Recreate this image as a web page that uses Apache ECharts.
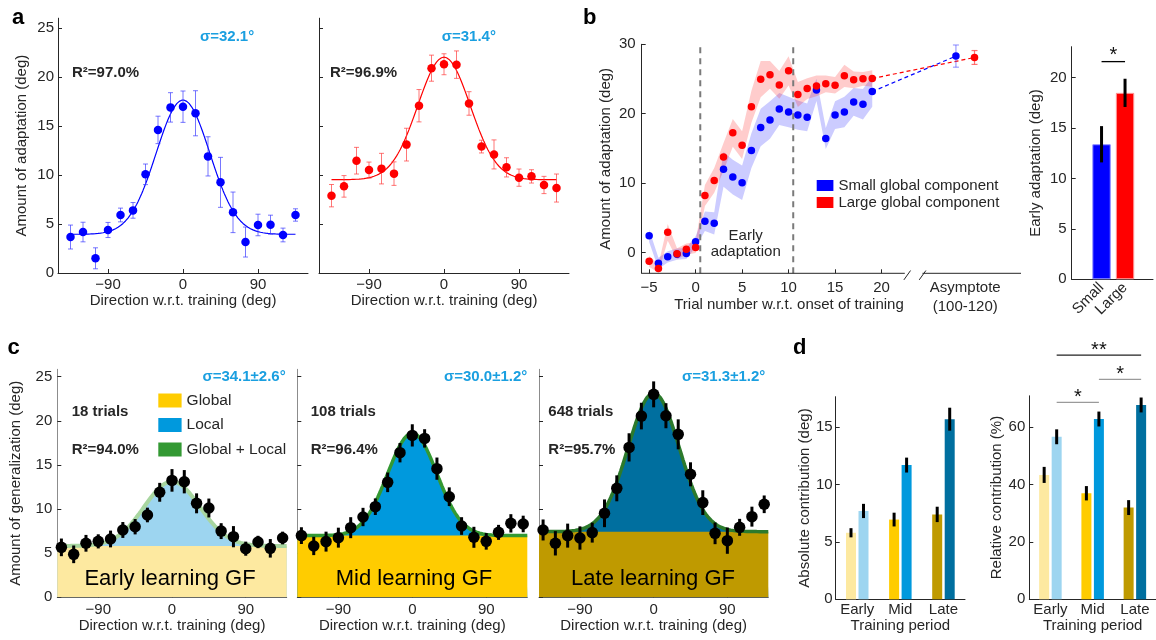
<!DOCTYPE html>
<html>
<head>
<meta charset="utf-8">
<title>Generalization of global and local adaptation</title>
<script src="https://cdn.jsdelivr.net/npm/echarts@6/dist/echarts.min.js"></script>
<style>
  html, body { margin: 0; padding: 0; background: #fff; }
  #chart { width: 1156px; height: 640px; }
</style>
</head>
<body>
<div id="chart"></div>
<script>
// ---------------- data ----------------
const dirAngles = [-135, -120, -105, -90, -75, -60, -45, -30, -15, 0, 15, 30, 45, 60, 75, 90, 105, 120, 135];
const dirTicks = [-90, 0, 90];

// (a) generalization of adaptation, small vs large global component
const smallGlobalAdapt    = [3.67, 4.18, 1.5, 4.39, 5.92, 6.39, 10.07, 14.6, 16.9, 16.97, 16.3, 11.9, 9.25, 6.19, 3.16, 4.9, 4.93, 3.88, 5.92];
const smallGlobalAdaptErr = [1.22, 1.0, 1.07, 0.77, 0.7, 0.8, 1.05, 1.4, 1.5, 1.6, 2.3, 2.0, 2.55, 2.07, 1.53, 1.1, 0.97, 0.7, 0.63];
const largeGlobalAdapt    = [7.89, 8.84, 11.46, 10.5, 10.65, 10.14, 13.1, 17.07, 20.9, 21.3, 21.26, 17.3, 12.9, 12.1, 10.78, 9.73, 9.86, 8.98, 8.67];
const largeGlobalAdaptErr = [1.14, 1.1, 1.36, 0.82, 1.56, 1.2, 1.67, 1.65, 1.33, 1.07, 1.4, 1.2, 0.65, 1.48, 0.98, 0.88, 0.68, 0.88, 1.43];
const smallGlobalFit = { base: 3.95, amp: 13.7, sigma: 32.1, r2: 97.0 };
const largeGlobalFit = { base: 9.52, amp: 12.5, sigma: 31.4, r2: 96.9 };

// (b) trial-by-trial adaptation
const trialNumbers = [-5, -4, -3, -2, -1, 0, 1, 2, 3, 4, 5, 6, 7, 8, 9, 10, 11, 12, 13, 14, 15, 16, 17, 18, 19];
const smallTrialAdapt = [2.42, -1.55, -0.63, -0.24, -0.14, 1.55, 4.49, 4.2, 11.98, 10.87, 10.05, 14.69, 18.02, 19.08, 20.68, 20.24, 19.8, 19.47, 23.43, 16.43, 19.8, 20.24, 21.69, 21.35, 23.19];
const smallTrialSE    = [0.9, 0.8, 0.8, 0.8, 0.8, 0.8, 1.4, 1.6, 2.5, 2.5, 2.5, 2.5, 2.7, 2.7, 2.3, 2.2, 2.1, 2.0, 1.6, 1.5, 2.0, 2.2, 2.0, 2.2, 2.2];
const largeTrialAdapt = [-1.26, -2.32, 2.9, -0.19, 0.48, 0.72, 8.21, 10.39, 13.77, 17.25, 15.46, 21.01, 24.98, 25.6, 24.15, 26.18, 22.75, 23.62, 24.0, 24.3, 24.1, 25.46, 24.88, 25.02, 25.07];
const largeTrialSE    = [0.8, 0.6, 1.2, 0.8, 0.8, 0.8, 1.5, 1.8, 2.0, 2.0, 2.0, 2.3, 2.6, 2.0, 2.0, 2.1, 1.8, 1.5, 1.5, 1.2, 1.2, 1.6, 1.2, 1.0, 1.2];
const asymptoteAdapt = [28.3, 28.1];   // small, large (trials 100-120)
const asymptoteErr   = [1.6, 1.0];
const earlyGroups    = ['Small', 'Large'];
const earlyAdapt     = [13.4, 18.5];
const earlyAdaptErr  = [1.8, 1.4];

// (c) generalization function at three training stages
const gfStages  = ['Early', 'Mid', 'Late'];
const gfEarly    = [5.66, 4.87, 6.12, 6.34, 6.61, 7.63, 8.0, 9.33, 11.9, 13.25, 13.1, 10.65, 10.12, 7.5, 6.87, 5.51, 6.27, 5.55, 6.72];
const gfEarlyErr = [1.0, 1.0, 0.95, 0.8, 0.95, 0.9, 0.87, 0.83, 1.07, 1.28, 1.32, 1.13, 1.07, 0.9, 1.2, 0.8, 0.7, 1.05, 0.72];
const gfMid      = [6.99, 5.82, 6.31, 6.76, 7.89, 9.1, 10.27, 13.03, 16.39, 18.35, 18.01, 14.58, 11.4, 8.08, 6.8, 6.34, 7.36, 8.38, 8.31];
const gfMidErr   = [0.95, 1.04, 1.13, 1.13, 1.19, 1.04, 0.94, 1.11, 1.1, 1.26, 1.04, 1.26, 1.06, 1.0, 1.19, 0.94, 0.85, 1.04, 0.94];
const gfLate     = [7.63, 6.12, 6.99, 6.72, 7.33, 9.52, 12.35, 16.99, 20.54, 23.0, 20.58, 18.47, 13.94, 10.73, 7.25, 6.42, 7.93, 9.14, 10.54];
const gfLateErr  = [1.19, 1.38, 1.36, 1.32, 1.13, 1.57, 1.47, 1.6, 1.51, 1.47, 1.42, 1.7, 1.36, 1.4, 1.23, 1.49, 0.96, 1.13, 1.0];
const gfEarlyFit = { base: 5.82, amp: 7.3,  sigma: 34.1, sigmaErr: 2.6, r2: 94.0, trials: 18 };
const gfMidFit   = { base: 6.99, amp: 11.6, sigma: 30.0, sigmaErr: 1.2, r2: 96.4, trials: 108 };
const gfLateFit  = { base: 7.44, amp: 15.7, sigma: 31.3, sigmaErr: 1.2, r2: 95.7, trials: 648 };

// (d) global / local contributions per training period
const periods        = ['Early', 'Mid', 'Late'];
const absGlobal      = [5.8, 6.95, 7.4];
const absGlobalErr   = [0.4, 0.6, 0.67];
const absLocal       = [7.7, 11.7, 15.7];
const absLocalErr    = [0.62, 0.65, 1.0];
const relGlobal      = [43.4, 37.0, 32.0];
const relGlobalErr   = [2.8, 2.5, 2.6];
const relLocal       = [56.7, 62.9, 67.8];
const relLocalErr    = [2.6, 2.6, 2.6];
// significance brackets on the relative plot: [from period, to period, height (%), stars]
const relSigBrackets = [[0, 1, 68.7, '*'], [1, 2, 76.7, '*'], [0, 2, 85.2, '**']];

// ---------------- styling / layout ----------------
const FONT = '"Liberation Sans", Arial, Helvetica, sans-serif';
const INK = '#262626';
const SIGMA_BLUE = '#1A9FE0';
const BLUE = '#0000FF', RED = '#FF0000';
const stageColors = [
  { global: '#FDE9A0', local: '#9DD5F0', fit: '#A8D6A0' },
  { global: '#FFCC00', local: '#0099DD', fit: '#339933' },
  { global: '#BF9A00', local: '#006F9F', fit: '#2C7A2C' },
];
const TRIAL_X = { min: -5.8, max: 35, breakStart: 22.5, breakEnd: 24.4, smallAsym: 28, largeAsym: 30, asymLabel: 29 };
const TRIAL_Y = { min: -3, max: 30 };
const EARLY_WINDOW = [0.5, 10.5];
const GF_X = { min: -140, max: 140 };
const BAR_OFFSET = 6.25;   // px from category centre to each of the paired bars

const minus = v => String(v).replace('-', '\u2212');

function gaussFit(fit, from, to, step) {
  const pts = [];
  for (let x = from; x <= to + 1e-9; x += step) {
    pts.push([x, fit.base + fit.amp * Math.exp(-(x * x) / (2 * fit.sigma * fit.sigma))]);
  }
  return pts;
}

function txt(text, x, y, o = {}) {
  const align = o.align || 'left';
  return {
    type: 'text', x, y, silent: true, z: 100,
    style: {
      text, fill: o.color || INK,
      font: `${o.weight || 'normal'} ${o.size || 15}px ${FONT}`,
      align, textAlign: align, verticalAlign: 'middle', textVerticalAlign: 'middle'
    }
  };
}

function axis(grid, min, max, ticks, o = {}) {
  const color = o.lineColor || INK;
  return {
    type: o.type || 'value', gridIndex: grid, min, max, data: o.data,
    name: o.name, nameLocation: 'middle', nameGap: o.nameGap,
    nameTextStyle: { color: INK, fontSize: 15, fontFamily: FONT },
    axisLine: { show: o.line !== false, onZero: false, lineStyle: { color, width: 1 } },
    axisTick: { show: o.tick !== false, inside: true, length: 4, customValues: ticks, lineStyle: { color: INK } },
    axisLabel: {
      show: o.labels !== false, customValues: o.labelValues || ticks, interval: 0,
      margin: o.margin == null ? 4 : o.margin, color: INK, fontSize: 15, fontFamily: FONT,
      lineHeight: o.lineHeight, rotate: o.rotate || 0, formatter: o.formatter || minus
    },
    splitLine: { show: false }
  };
}

function errorBarItem(st) {
  return function (params, api) {
    const x = api.value(0), y = api.value(1), e = api.value(2);
    const top = api.coord([x, y + e]);
    const bot = api.coord([x, y - e]);
    const cx = top[0] + (st.dx || 0);
    const ls = { stroke: st.color, lineWidth: st.width };
    const kids = [{ type: 'line', shape: { x1: cx, y1: top[1], x2: cx, y2: bot[1] }, style: ls }];
    if (st.cap) {
      kids.push({ type: 'line', shape: { x1: cx - st.cap, y1: top[1], x2: cx + st.cap, y2: top[1] }, style: ls });
      kids.push({ type: 'line', shape: { x1: cx - st.cap, y1: bot[1], x2: cx + st.cap, y2: bot[1] }, style: ls });
    }
    return { type: 'group', children: kids };
  };
}

function errorSeries(g, xs, ys, es, st, z) {
  return {
    type: 'custom', xAxisIndex: g, yAxisIndex: g, z, silent: true, clip: false,
    renderItem: errorBarItem(st),
    encode: { x: 0, y: 1 },
    data: xs.map((x, i) => [x, ys[i], es[i]])
  };
}

function bandSeries(g, xs, ys, es, color, z) {
  return {
    type: 'custom', xAxisIndex: g, yAxisIndex: g, z, silent: true,
    encode: { x: 0, y: [1, 2] },
    data: xs.map((x, i) => [x, ys[i] - es[i], ys[i] + es[i]]),
    renderItem(params, api) {
      if (params.dataIndex !== 0) return null;
      const upper = xs.map((x, i) => api.coord([x, ys[i] + es[i]]));
      const lower = xs.map((x, i) => api.coord([x, ys[i] - es[i]])).reverse();
      return { type: 'polygon', shape: { points: upper.concat(lower) }, style: { fill: color } };
    }
  };
}

function plainLine(g, pts, lineStyle, z, extra = {}) {
  return Object.assign({
    type: 'line', xAxisIndex: g, yAxisIndex: g, data: pts, symbol: 'none',
    lineStyle, z, silent: true, animation: false
  }, extra);
}

function dots(g, pts, size, color, z, name) {
  return {
    type: 'scatter', name, xAxisIndex: g, yAxisIndex: g, z, silent: true,
    data: pts, symbolSize: size, itemStyle: { color, opacity: 1 }
  };
}

function sigSeries(g, brackets, st) {
  return {
    type: 'custom', xAxisIndex: g, yAxisIndex: g, z: 6, silent: true, clip: false,
    encode: { x: [0, 1], y: 2 },
    data: brackets,
    renderItem(params, api) {
      const a = api.coord([api.value(0), api.value(2)]);
      const b = api.coord([api.value(1), api.value(2)]);
      const stars = brackets[params.dataIndex][3];
      const color = st.colors ? st.colors[params.dataIndex] : st.color;
      return {
        type: 'group', children: [
          { type: 'line', shape: { x1: a[0] + st.dx, y1: a[1], x2: b[0] + st.dx, y2: b[1] }, style: { stroke: color, lineWidth: 1.3 } },
          { type: 'text', style: {
              text: stars, x: (a[0] + b[0]) / 2 + st.dx, y: a[1] - st.lift,
              font: `normal 20px ${FONT}`, fill: '#111',
              align: 'center', textAlign: 'center', verticalAlign: 'middle', textVerticalAlign: 'middle' } }
        ]
      };
    }
  };
}

// ---------------- grids & axes ----------------
const grids = [
  { left: 58, top: 18.2, width: 250, height: 254.8 },       // 0 a: small global
  { left: 319, top: 18.2, width: 250, height: 254.8 },      // 1 a: large global
  { left: 641.7, top: 44.3, width: 379.3, height: 229 },    // 2 b: trials
  { left: 1071.7, top: 46.7, width: 81.3, height: 232.6 },  // 3 b: early adaptation bars
  { left: 57.3, top: 369.3, width: 229.4, height: 228 },    // 4 c: early
  { left: 297.3, top: 369.3, width: 230, height: 228 },     // 5 c: mid
  { left: 539, top: 369.3, width: 229.3, height: 228 },     // 6 c: late
  { left: 835.7, top: 396.7, width: 129.3, height: 202.6 }, // 7 d: absolute
  { left: 1029.3, top: 395.8, width: 128, height: 203.5 }   // 8 d: relative
];

const dirName = 'Direction w.r.t. training (deg)';
const xAxes = [
  axis(0, -150, 150, dirTicks, { name: dirName, nameGap: 18 }),
  axis(1, -150, 150, dirTicks, { name: dirName, nameGap: 18 }),
  axis(2, TRIAL_X.min, TRIAL_X.max, [-5, 0, 5, 10, 15, 20], {
    line: false, margin: 5, lineHeight: 19,
    labelValues: [-5, 0, 5, 10, 15, 20, TRIAL_X.asymLabel],
    formatter: v => (v === TRIAL_X.asymLabel ? 'Asymptote\n(100-120)' : minus(v))
  }),
  axis(3, -0.27, 3.19, [1, 2], {
    tick: false, rotate: 45, margin: 6,
    formatter: v => earlyGroups[Math.round(v) - 1]
  }),
  axis(4, GF_X.min, GF_X.max, dirTicks, { name: dirName, nameGap: 20.5, lineColor: '#595959', margin: 5 }),
  axis(5, GF_X.min, GF_X.max, dirTicks, { name: dirName, nameGap: 20.5, lineColor: '#595959', margin: 5 }),
  axis(6, GF_X.min, GF_X.max, dirTicks, { name: dirName, nameGap: 20.5, lineColor: '#595959', margin: 5 }),
  axis(7, null, null, undefined, { type: 'category', data: periods, tick: false, name: 'Training period', nameGap: 19, margin: 3 }),
  axis(8, null, null, undefined, { type: 'category', data: periods, tick: false, name: 'Training period', nameGap: 19, margin: 3 })
];
xAxes[7].boundaryGap = true; xAxes[8].boundaryGap = true;
delete xAxes[7].min; delete xAxes[7].max; delete xAxes[8].min; delete xAxes[8].max;

const y5 = [0, 5, 10, 15, 20, 25];
const yAxes = [
  axis(0, 0, 26, y5, { name: 'Amount of adaptation (deg)', nameGap: 29, margin: 4 }),
  axis(1, 0, 26, y5, { labels: false }),
  axis(2, TRIAL_Y.min, TRIAL_Y.max, [0, 10, 20, 30], { name: 'Amount of adaptation (deg)', nameGap: 28, margin: 6 }),
  axis(3, 0, 23.08, [0, 5, 10, 15, 20], { name: 'Early adaptation (deg)', nameGap: 28, margin: 5 }),
  axis(4, 0, 25.84, y5, { name: 'Amount of generalization (deg)', nameGap: 34, margin: 5, lineColor: '#8c8c8c' }),
  axis(5, 0, 25.84, y5, { labels: false, lineColor: '#8c8c8c' }),
  axis(6, 0, 25.84, y5, { labels: false, lineColor: '#8c8c8c' }),
  axis(7, 0, 17.66, [0, 5, 10, 15], { name: 'Absolute contribution (deg)', nameGap: 23, margin: 3 }),
  axis(8, 0, 71, [0, 20, 40, 60], { name: 'Relative contribution (%)', nameGap: 24, margin: 4 })
];

// ---------------- series ----------------
const series = [];

// (a) two generalization curves
[
  [0, smallGlobalAdapt, smallGlobalAdaptErr, smallGlobalFit, BLUE, 'rgba(60,60,255,0.7)'],
  [1, largeGlobalAdapt, largeGlobalAdaptErr, largeGlobalFit, RED, 'rgba(255,60,60,0.7)']
].forEach(([g, ys, es, fit, color, errColor]) => {
  series.push(plainLine(g, gaussFit(fit, -135, 135, 1.5), { color, width: 1.2 }, 2));
  series.push(errorSeries(g, dirAngles, ys, es, { color: errColor, width: 1, cap: 2.5 }, 3));
  series.push(dots(g, dirAngles.map((x, i) => [x, ys[i]]), 8.5, color, 4));
});

// (b) trial-by-trial learning curves
series.push(bandSeries(2, trialNumbers, smallTrialAdapt, smallTrialSE, 'rgba(0,0,255,0.2)', 1));
series.push(bandSeries(2, trialNumbers, largeTrialAdapt, largeTrialSE, 'rgba(255,0,0,0.2)', 1));
EARLY_WINDOW.forEach(x => series.push(plainLine(2, [[x, TRIAL_Y.min], [x, TRIAL_Y.max]],
  { color: '#7a7a7a', width: 2, type: [6, 5] }, 2)));
const lastTrial = trialNumbers.length - 1;
series.push(plainLine(2, [[trialNumbers[lastTrial], smallTrialAdapt[lastTrial]], [TRIAL_X.smallAsym, asymptoteAdapt[0]]],
  { color: BLUE, width: 1.2, type: [4, 3] }, 3));
series.push(plainLine(2, [[trialNumbers[lastTrial], largeTrialAdapt[lastTrial]], [TRIAL_X.largeAsym, asymptoteAdapt[1]]],
  { color: RED, width: 1.2, type: [4, 3] }, 3));
series.push(errorSeries(2, [TRIAL_X.smallAsym], [asymptoteAdapt[0]], [asymptoteErr[0]], { color: 'rgba(90,90,255,0.6)', width: 1.2, cap: 3 }, 4));
series.push(errorSeries(2, [TRIAL_X.largeAsym], [asymptoteAdapt[1]], [asymptoteErr[1]], { color: 'rgba(255,70,70,0.75)', width: 1.2, cap: 3 }, 4));
series.push(dots(2, trialNumbers.map((t, i) => [t, smallTrialAdapt[i]]).concat([[TRIAL_X.smallAsym, asymptoteAdapt[0]]]),
  7.5, BLUE, 5, 'Small global component'));
series.push(dots(2, trialNumbers.map((t, i) => [t, largeTrialAdapt[i]]).concat([[TRIAL_X.largeAsym, asymptoteAdapt[1]]]),
  7.5, RED, 5, 'Large global component'));
// broken x axis of the learning-curve plot
const axisLineStyle = { color: INK, width: 1 };
series.push(plainLine(2, [[TRIAL_X.min, TRIAL_Y.min], [TRIAL_X.breakStart, TRIAL_Y.min]], axisLineStyle, 6, { clip: false }));
series.push(plainLine(2, [[TRIAL_X.breakEnd, TRIAL_Y.min], [TRIAL_X.max, TRIAL_Y.min]], axisLineStyle, 6, { clip: false }));
[TRIAL_X.breakStart - 0.1, TRIAL_X.breakEnd - 0.35].forEach(x0 => series.push(
  plainLine(2, [[x0, TRIAL_Y.min - 0.95], [x0 + 0.72, TRIAL_Y.min + 0.4]], axisLineStyle, 6, { clip: false })));

// (b) early adaptation bars
series.push({
  type: 'bar', xAxisIndex: 3, yAxisIndex: 3, barWidth: 18.4, z: 2, silent: true,
  data: earlyAdapt.map((v, i) => ({
    value: [i + 1, v],
    itemStyle: { color: [BLUE, RED][i], borderColor: ['#8c8cff', '#ff9a9a'][i], borderWidth: 1 }
  }))
});
series.push(errorSeries(3, [1, 2], earlyAdapt, earlyAdaptErr, { color: '#000', width: 3 }, 3));
series.push(sigSeries(3, [[1, 2, 21.6, '*']], { dx: 0, lift: 6, color: '#000' }));

// (c) generalization functions decomposed into global and local parts
const gfValues = [gfEarly, gfMid, gfLate];
const gfErrors = [gfEarlyErr, gfMidErr, gfLateErr];
const gfFits = [gfEarlyFit, gfMidFit, gfLateFit];
gfStages.forEach((stage, k) => {
  const g = 4 + k, fit = gfFits[k], col = stageColors[k];
  const curve = gaussFit(fit, GF_X.min, GF_X.max, 2);
  const named = k === 1;   // the mid-stage colours are the ones shown in the legend
  series.push(plainLine(g, curve, { width: 0 }, 1, {
    name: named ? 'Local' : 'Local ' + stage, areaStyle: { color: col.local, opacity: 1 }, itemStyle: { color: col.local }
  }));
  series.push(plainLine(g, [[GF_X.min, fit.base], [GF_X.max, fit.base]], { width: 0 }, 2, {
    name: named ? 'Global' : 'Global ' + stage, areaStyle: { color: col.global, opacity: 1 }, itemStyle: { color: col.global }
  }));
  series.push(plainLine(g, curve, { color: col.fit, width: k === 0 ? 4 : 3.5 }, 3, {
    name: named ? 'Global + Local' : 'Global + Local ' + stage, itemStyle: { color: col.fit }
  }));
  series.push(errorSeries(g, dirAngles, gfValues[k], gfErrors[k], { color: '#000', width: 3 }, 4));
  series.push(dots(g, dirAngles.map((x, i) => [x, gfValues[k][i]]), 11.5, '#000', 5));
});

// (d) contributions
function contribution(g, glob, globErr, loc, locErr) {
  series.push({
    type: 'bar', xAxisIndex: g, yAxisIndex: g, barWidth: 10, barGap: '25%', z: 2, silent: true,
    data: glob.map((v, i) => ({ value: v, itemStyle: { color: stageColors[i].global } }))
  });
  series.push({
    type: 'bar', xAxisIndex: g, yAxisIndex: g, barWidth: 10, barGap: '25%', z: 2, silent: true,
    data: loc.map((v, i) => ({ value: v, itemStyle: { color: stageColors[i].local } }))
  });
  series.push(errorSeries(g, [0, 1, 2], glob, globErr, { color: '#000', width: 3, dx: -BAR_OFFSET }, 3));
  series.push(errorSeries(g, [0, 1, 2], loc, locErr, { color: '#000', width: 3, dx: BAR_OFFSET }, 3));
}
contribution(7, absGlobal, absGlobalErr, absLocal, absLocalErr);
contribution(8, relGlobal, relGlobalErr, relLocal, relLocalErr);
series.push(sigSeries(8, relSigBrackets, { dx: BAR_OFFSET, lift: 5, colors: ['#9a9a9a', '#9a9a9a', '#222'] }));

// ---------------- annotations ----------------
const sigmaText = f => `\u03c3=${f.sigma.toFixed(1)}` + (f.sigmaErr != null ? `\u00b1${f.sigmaErr.toFixed(1)}` : '') + '\u00b0';
const r2Text = f => `R\u00b2=${f.r2.toFixed(1)}%`;
const graphics = [
  txt('a', 12, 18.3, { size: 22, weight: 'bold', color: '#000' }),
  txt('b', 583, 18.3, { size: 22, weight: 'bold', color: '#000' }),
  txt('c', 7.5, 348.3, { size: 22, weight: 'bold', color: '#000' }),
  txt('d', 793, 348.3, { size: 22, weight: 'bold', color: '#000' }),

  txt(r2Text(smallGlobalFit), 72, 73, { weight: 'bold' }),
  txt(sigmaText(smallGlobalFit), 200, 37, { weight: 'bold', color: SIGMA_BLUE }),
  txt(r2Text(largeGlobalFit), 330, 73, { weight: 'bold' }),
  txt(sigmaText(largeGlobalFit), 441.7, 37, { weight: 'bold', color: SIGMA_BLUE }),

  txt('Early', 745.7, 235.5, { align: 'center' }),
  txt('adaptation', 745.7, 251.8, { align: 'center' }),
  txt('Trial number w.r.t. onset of training', 789, 304.5, { align: 'center' }),

  txt(`${gfEarlyFit.trials} trials`, 71.7, 412, { weight: 'bold' }),
  txt(r2Text(gfEarlyFit), 71.7, 449.5, { weight: 'bold' }),
  txt(sigmaText(gfEarlyFit), 285.7, 377, { weight: 'bold', color: SIGMA_BLUE, align: 'right' }),
  txt(`${gfMidFit.trials} trials`, 310.7, 412, { weight: 'bold' }),
  txt(r2Text(gfMidFit), 310.7, 449.5, { weight: 'bold' }),
  txt(sigmaText(gfMidFit), 527.3, 377, { weight: 'bold', color: SIGMA_BLUE, align: 'right' }),
  txt(`${gfLateFit.trials} trials`, 548.3, 412, { weight: 'bold' }),
  txt(r2Text(gfLateFit), 548.3, 449.5, { weight: 'bold' }),
  txt(sigmaText(gfLateFit), 765.3, 377, { weight: 'bold', color: SIGMA_BLUE, align: 'right' }),

  txt('Early learning GF', 170, 579.3, { size: 22, align: 'center', color: '#000' }),
  txt('Mid learning GF', 414, 579.3, { size: 22, align: 'center', color: '#000' }),
  txt('Late learning GF', 653, 579.3, { size: 22, align: 'center', color: '#000' })
];

const chart = echarts.init(document.getElementById('chart'), null, { renderer: 'canvas' });
chart.setOption({
  animation: false,
  backgroundColor: '#fff',
  textStyle: { fontFamily: FONT },
  grid: grids,
  xAxis: xAxes,
  yAxis: yAxes,
  legend: [
    {
      data: ['Small global component', 'Large global component'],
      left: 816.7, top: 178, orient: 'vertical', padding: 0, itemGap: 2,
      itemWidth: 16.7, itemHeight: 11, icon: 'rect', selectedMode: false,
      itemStyle: { borderWidth: 0, opacity: 1 },
      textStyle: { color: INK, fontSize: 15, fontFamily: FONT }
    },
    {
      data: ['Global', 'Local', 'Global + Local'],
      left: 158.3, top: 392.5, orient: 'vertical', padding: 0, itemGap: 8.5,
      itemWidth: 23.3, itemHeight: 14, icon: 'rect', selectedMode: false,
      itemStyle: { borderWidth: 0 },
      textStyle: { color: INK, fontSize: 15.5, fontFamily: FONT }
    }
  ],
  series,
  graphic: graphics
});
</script>
</body>
</html>
